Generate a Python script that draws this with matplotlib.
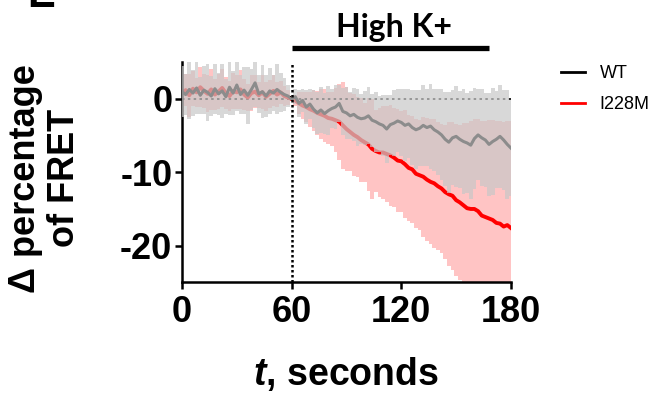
"""FRET time course, WT vs I228M, after high K+ at 60 s."""

import numpy as np
import matplotlib
matplotlib.use("Agg")
import matplotlib.pyplot as plt
import matplotlib.transforms as mtransforms

plt.rcParams["font.family"] = ["Liberation Sans", "DejaVu Sans"]
plt.rcParams["mathtext.fontset"] = "custom"
plt.rcParams["mathtext.it"] = "Liberation Sans:italic:bold"
plt.rcParams["mathtext.rm"] = "Liberation Sans:bold"
plt.rcParams["axes.unicode_minus"] = False

# time in seconds, one sample every 2 s
time_s = list(range(0, 181, 2))

wt_mean = [
    1.0, 0.6, 1.3, 0.8, 1.5, 0.5, 1.2, 0.9, 0.4, 1.4, 0.7, 1.1, 0.3, 1.6, 0.8, 1.9,
    0.6, 1.2, 0.5, 1.3, 2.2, 0.7, 1.0, 0.4, 1.1, 0.8, 1.3, 0.9, 0.6, 0.4, 0.0,
    0.3, -0.6, -0.2, -1.1, -0.7, -1.4, -1.9, -1.5, -2.0, -1.6, -1.3, -1.1, -0.6, -1.7, -1.9,
    -2.3, -2.1, -2.5, -2.7, -2.6, -2.3, -2.9, -3.1, -3.4, -3.6, -4.1, -3.5, -3.3, -3.0, -3.2,
    -3.6, -3.4, -3.9, -4.2, -4.0, -3.6, -3.9, -3.7, -4.2, -4.5, -4.9, -5.5, -5.9, -5.3, -5.1,
    -5.5, -5.8, -6.0, -6.3, -5.4, -4.9, -5.3, -5.6, -6.2, -5.8, -5.5, -5.1, -5.6, -6.2, -6.7,
]
wt_sem = [
    3.5, 2.8, 4.0, 3.1, 3.6, 2.5, 3.3, 3.9, 2.7, 3.4, 2.9, 3.7, 2.4, 3.8, 3.0, 3.5,
    2.6, 3.2, 3.9, 2.8, 3.3, 2.6, 3.6, 2.9, 3.1, 2.4, 3.4, 2.7, 2.2, 1.5, 0.2,
    1.0, 1.8, 1.6, 2.3, 2.1, 2.6, 2.9, 3.1, 2.8, 3.3, 2.7, 3.0, 2.5, 3.2, 3.5,
    3.2, 3.6, 3.9, 3.4, 3.7, 3.9, 3.6, 4.1, 3.8, 4.2, 4.6, 4.1, 4.5, 4.3, 4.6,
    4.9, 4.7, 5.1, 5.4, 5.2, 5.5, 5.3, 5.8, 5.6, 5.9, 6.2, 6.4, 6.9, 6.5, 6.9,
    6.6, 7.1, 6.8, 7.4, 6.9, 6.2, 6.6, 6.4, 7.0, 7.3, 6.6, 7.0, 6.8, 7.4, 6.5,
]
mut_mean = [
    0.8, 1.2, 0.5, 1.4, 0.9, 1.6, 1.1, 0.7, 1.3, 0.6, 1.0, 1.5, 0.8, 0.4, 1.1, 0.9,
    1.3, 0.6, 0.2, 0.8, 1.0, 0.5, 0.9, 0.3, 0.7, 1.1, 0.6, 0.9, 0.4, 0.2, 0.0,
    -0.2, -0.6, -0.9, -1.1, -1.4, -1.6, -1.9, -2.1, -2.3, -2.6, -2.7, -2.9, -3.1, -3.6, -4.1,
    -4.5, -4.9, -5.2, -5.6, -5.9, -6.2, -6.8, -7.1, -7.3, -7.3, -7.5, -7.7, -8.0, -8.4, -8.5,
    -8.9, -9.4, -9.6, -10.2, -10.4, -10.6, -11.0, -11.3, -11.5, -11.9, -12.2, -12.7, -13.0, -13.2, -13.8,
    -14.1, -14.5, -14.9, -15.0, -15.0, -15.3, -15.9, -16.1, -16.3, -16.5, -16.9, -17.0, -17.4, -17.2, -17.6,
]
mut_sem = [
    2.6, 2.2, 2.9, 2.4, 2.0, 2.7, 2.3, 2.5, 2.8, 2.1, 2.4, 2.6, 2.2, 2.0, 2.5, 2.3,
    2.7, 2.1, 1.9, 2.4, 2.2, 1.8, 2.3, 2.0, 1.9, 2.1, 1.7, 1.6, 1.4, 1.0, 0.2,
    0.8, 1.5, 1.9, 2.1, 2.4, 2.8, 3.0, 3.4, 3.6, 3.5, 3.7, 4.4, 5.2, 5.9, 5.7,
    5.3, 5.6, 5.4, 5.7, 5.4, 6.3, 6.8, 5.6, 6.1, 6.4, 6.6, 6.9, 6.7, 7.0, 6.9,
    7.4, 7.2, 7.3, 7.4, 7.5, 8.2, 8.4, 8.5, 8.8, 8.7, 8.8, 9.1, 9.8, 10.1, 10.4,
    10.6, 11.2, 11.6, 12.0, 12.3, 12.5, 12.9, 13.1, 13.4, 13.6, 13.9, 14.0, 14.3, 14.2, 14.6,
]
labels = ["WT", "I228M"]
stim_start, stim_end = 60, 168
x_ticks = [0, 60, 120, 180]
y_ticks = [0, -10, -20]


def main() -> None:
    t = np.array(time_s, dtype=float)
    wm, ws = np.array(wt_mean), np.array(wt_sem)
    mm, ms = np.array(mut_mean), np.array(mut_sem)

    fig = plt.figure(figsize=(6.49, 3.94), dpi=100)
    ax = fig.add_axes([0.2804, 0.2835, 0.5069, 0.5584])

    # error bars as thin columns, mutant under WT
    ax.bar(t, 2 * ms, bottom=mm - ms, width=2.0, color="#ffc4c4", linewidth=0, zorder=1)
    ax.plot([0, 180], [0, 0], color="black", lw=1.2, ls=(0, (1.5, 2)), zorder=1.5)
    (mut_line,) = ax.plot(t, mm, color="#ff0000", lw=2.8, zorder=2, label=labels[1])
    (wt_line,) = ax.plot(t, wm, color="black", lw=2.2, zorder=2.5, label=labels[0])
    ax.bar(t, 2 * ws, bottom=wm - ws, width=2.0, color="#c8c8c8", alpha=0.7,
           linewidth=0, zorder=3)
    ax.axvline(60, color="black", lw=1.8, ls=(0, (1, 1)), zorder=4)

    ax.set_xlim(0, 180)
    ax.set_ylim(-25, 5)
    ax.set_xticks(x_ticks)
    ax.set_yticks(y_ticks)
    for side in ("top", "right"):
        ax.spines[side].set_visible(False)
    for side in ("left", "bottom"):
        ax.spines[side].set_linewidth(1.8)
    ax.tick_params(width=1.8, length=5, labelsize=26, pad=2)
    ax.tick_params(axis="x", pad=4)
    for lab in ax.get_xticklabels() + ax.get_yticklabels():
        lab.set_fontweight("bold")

    ax.set_xlabel("$t$, seconds", fontsize=27, fontweight="bold", labelpad=18)
    fig.text(0.069, 0.548, "\u0394 percentage\nof FRET", rotation=90, ha="center",
             va="center", fontsize=26, fontweight="bold", linespacing=1.15,
             multialignment="center")

    # stimulus bar above the axes
    trans = mtransforms.blended_transform_factory(ax.transData, ax.transAxes)
    ax.plot([stim_start, stim_end], [1.067, 1.067], color="black", lw=3.8,
            transform=trans, clip_on=False, solid_capstyle="butt")
    ax.text(116, 1.116, "High K+", transform=trans,
            ha="center", va="baseline", fontsize=23, fontweight="bold",
            family=["Lato", "DejaVu Sans"])

    leg = ax.legend(handles=[wt_line, mut_line], loc="upper left",
                    bbox_to_anchor=(0.8644, 0.835), bbox_transform=fig.transFigure,
                    frameon=False, fontsize=13, handlelength=1.35,
                    handletextpad=0.8, labelspacing=0.8, borderpad=0,
                    borderaxespad=0)
    for line in leg.get_lines():
        line.set_linewidth(2.0)

    # cut-off panel letter at the very top
    fig.text(0.042, 1 - 7 / 394, "E", ha="left", va="baseline", fontsize=30,
             fontweight="bold")

    fig.savefig("out.png", dpi=100)
    plt.close(fig)


if __name__ == "__main__":
    main()
